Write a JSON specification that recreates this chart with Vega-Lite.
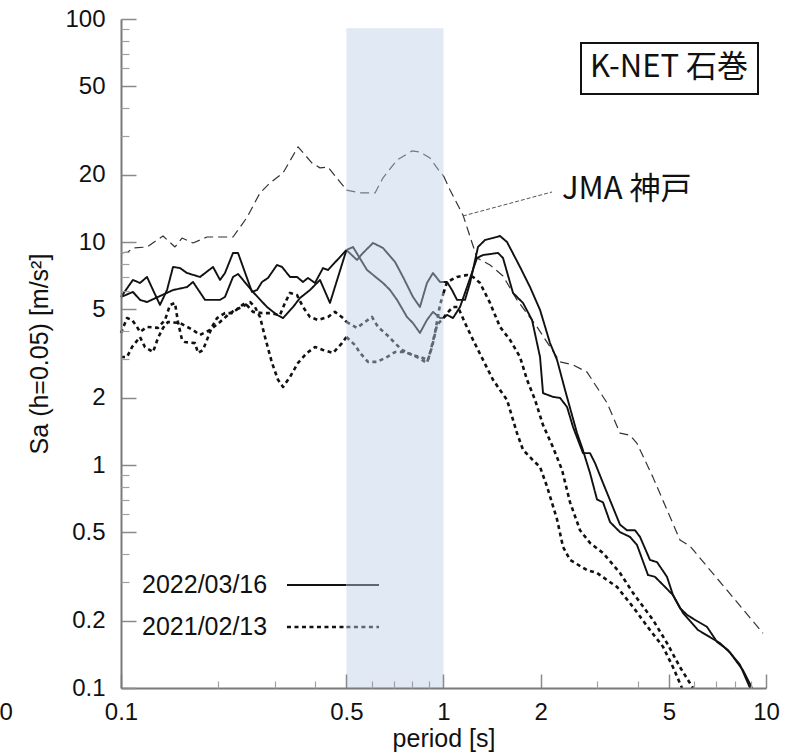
{
 "$schema": "https://vega.github.io/schema/vega-lite/v6.json",
 "width": 645, "height": 669,
 "autosize": "none",
 "padding": {"left": 121, "top": 19, "right": 39, "bottom": 67},
 "background": "white",
 "config": {"view": {"stroke": null}, "font": "Liberation Sans"},
 "datasets": {
  "lines": [
   {"i":"J1","g":"jma","t":"jout","x":0.1007,"y":8.93},{"i":"J1","g":"jma","t":"jout","x":0.1051,"y":9.02},{"i":"J1","g":"jma","t":"jout","x":0.1089,"y":9.4},{"i":"J1","g":"jma","t":"jout","x":0.1204,"y":9.5},{"i":"J1","g":"jma","t":"jout","x":0.135,"y":10.64},{"i":"J1","g":"jma","t":"jout","x":0.147,"y":9.5},{"i":"J1","g":"jma","t":"jout","x":0.1546,"y":10.42},{"i":"J1","g":"jma","t":"jout","x":0.1672,"y":9.9},{"i":"J1","g":"jma","t":"jout","x":0.1848,"y":10.53},{"i":"J1","g":"jma","t":"jout","x":0.2225,"y":10.53},{"i":"J1","g":"jma","t":"jout","x":0.2459,"y":12.9},{"i":"J1","g":"jma","t":"jout","x":0.2698,"y":16.6},{"i":"J1","g":"jma","t":"jout","x":0.2897,"y":18.4},{"i":"J1","g":"jma","t":"jout","x":0.318,"y":20.4},{"i":"J1","g":"jma","t":"jout","x":0.3539,"y":26.7},{"i":"J1","g":"jma","t":"jout","x":0.3911,"y":22.6},{"i":"J1","g":"jma","t":"jout","x":0.414,"y":21.5},{"i":"J1","g":"jma","t":"jout","x":0.4383,"y":21.7},{"i":"J1","g":"jma","t":"jout","x":0.5,"y":17.1},
   {"i":"J2","g":"jma","t":"jin","x":0.5,"y":17.1},{"i":"J2","g":"jma","t":"jin","x":0.5509,"y":16.6},{"i":"J2","g":"jma","t":"jin","x":0.6133,"y":16.6},{"i":"J2","g":"jma","t":"jin","x":0.6494,"y":19.4},{"i":"J2","g":"jma","t":"jin","x":0.7177,"y":23.3},{"i":"J2","g":"jma","t":"jin","x":0.7984,"y":25.6},{"i":"J2","g":"jma","t":"jin","x":0.8452,"y":25.3},{"i":"J2","g":"jma","t":"jin","x":0.908,"y":23.8},{"i":"J2","g":"jma","t":"jin","x":0.9752,"y":20.6},{"i":"J2","g":"jma","t":"jin","x":1.0,"y":19.8},
   {"i":"J3","g":"jma","t":"jout","x":1.0,"y":19.8},{"i":"J3","g":"jma","t":"jout","x":1.0476,"y":17.1},{"i":"J3","g":"jma","t":"jout","x":1.1495,"y":13.2},{"i":"J3","g":"jma","t":"jout","x":1.2704,"y":8.48},{"i":"J3","g":"jma","t":"jout","x":1.3939,"y":7.89},{"i":"J3","g":"jma","t":"jout","x":1.5293,"y":7.04},{"i":"J3","g":"jma","t":"jout","x":1.6902,"y":5.5},{"i":"J3","g":"jma","t":"jout","x":1.9499,"y":4.16},{"i":"J3","g":"jma","t":"jout","x":2.2982,"y":2.9},{"i":"J3","g":"jma","t":"jout","x":2.5217,"y":2.81},{"i":"J3","g":"jma","t":"jout","x":2.7866,"y":2.61},{"i":"J3","g":"jma","t":"jout","x":3.2137,"y":1.9},{"i":"J3","g":"jma","t":"jout","x":3.5262,"y":1.39},{"i":"J3","g":"jma","t":"jout","x":3.7871,"y":1.36},{"i":"J3","g":"jma","t":"jout","x":3.9811,"y":1.25},{"i":"J3","g":"jma","t":"jout","x":4.463,"y":0.88},{"i":"J3","g":"jma","t":"jout","x":5.4114,"y":0.461},{"i":"J3","g":"jma","t":"jout","x":5.8115,"y":0.433},{"i":"J3","g":"jma","t":"jout","x":9.788,"y":0.176},

   {"i":"A1","g":"d22","t":"out","x":0.1,"y":5.67},{"i":"A1","g":"d22","t":"out","x":0.1089,"y":6.76},{"i":"A1","g":"d22","t":"out","x":0.1145,"y":6.55},{"i":"A1","g":"d22","t":"out","x":0.1204,"y":6.97},{"i":"A1","g":"d22","t":"out","x":0.1257,"y":6.09},{"i":"A1","g":"d22","t":"out","x":0.1321,"y":5.22},{"i":"A1","g":"d22","t":"out","x":0.1389,"y":6.09},{"i":"A1","g":"d22","t":"out","x":0.145,"y":7.73},{"i":"A1","g":"d22","t":"out","x":0.1524,"y":7.64},{"i":"A1","g":"d22","t":"out","x":0.1602,"y":7.26},{"i":"A1","g":"d22","t":"out","x":0.1758,"y":6.97},{"i":"A1","g":"d22","t":"out","x":0.1929,"y":7.73},{"i":"A1","g":"d22","t":"out","x":0.2028,"y":6.76},{"i":"A1","g":"d22","t":"out","x":0.2101,"y":7.26},{"i":"A1","g":"d22","t":"out","x":0.2225,"y":8.93},{"i":"A1","g":"d22","t":"out","x":0.2306,"y":8.93},{"i":"A1","g":"d22","t":"out","x":0.2548,"y":5.97},{"i":"A1","g":"d22","t":"out","x":0.2641,"y":6.09},{"i":"A1","g":"d22","t":"out","x":0.2737,"y":6.62},{"i":"A1","g":"d22","t":"out","x":0.2857,"y":6.9},{"i":"A1","g":"d22","t":"out","x":0.3046,"y":7.89},{"i":"A1","g":"d22","t":"out","x":0.3157,"y":7.73},{"i":"A1","g":"d22","t":"out","x":0.3342,"y":6.97},{"i":"A1","g":"d22","t":"out","x":0.3514,"y":6.97},{"i":"A1","g":"d22","t":"out","x":0.3667,"y":6.62},{"i":"A1","g":"d22","t":"out","x":0.38,"y":6.9},{"i":"A1","g":"d22","t":"out","x":0.3995,"y":6.55},{"i":"A1","g":"d22","t":"out","x":0.423,"y":7.64},{"i":"A1","g":"d22","t":"out","x":0.4383,"y":7.49},{"i":"A1","g":"d22","t":"out","x":0.5,"y":9.2},
   {"i":"A2","g":"d22","t":"in","x":0.5,"y":9.2},{"i":"A2","g":"d22","t":"in","x":0.5392,"y":8.31},{"i":"A2","g":"d22","t":"in","x":0.5629,"y":8.93},{"i":"A2","g":"d22","t":"in","x":0.6046,"y":9.9},{"i":"A2","g":"d22","t":"in","x":0.6494,"y":9.4},{"i":"A2","g":"d22","t":"in","x":0.7075,"y":8.14},{"i":"A2","g":"d22","t":"in","x":0.7489,"y":6.97},{"i":"A2","g":"d22","t":"in","x":0.8041,"y":5.67},{"i":"A2","g":"d22","t":"in","x":0.8452,"y":5.11},{"i":"A2","g":"d22","t":"in","x":0.8886,"y":6.55},{"i":"A2","g":"d22","t":"in","x":0.9277,"y":7.26},{"i":"A2","g":"d22","t":"in","x":0.9752,"y":6.62},{"i":"A2","g":"d22","t":"in","x":1.0,"y":6.62},
   {"i":"A3","g":"d22","t":"out","x":1.0,"y":6.62},{"i":"A3","g":"d22","t":"out","x":1.0254,"y":6.62},{"i":"A3","g":"d22","t":"out","x":1.0626,"y":6.09},{"i":"A3","g":"d22","t":"out","x":1.1013,"y":5.5},{"i":"A3","g":"d22","t":"out","x":1.1661,"y":5.5},{"i":"A3","g":"d22","t":"out","x":1.2085,"y":6.55},{"i":"A3","g":"d22","t":"out","x":1.2794,"y":9.5},{"i":"A3","g":"d22","t":"out","x":1.3451,"y":10.21},{"i":"A3","g":"d22","t":"out","x":1.4241,"y":10.42},{"i":"A3","g":"d22","t":"out","x":1.4969,"y":10.64},{"i":"A3","g":"d22","t":"out","x":1.5737,"y":10.0},{"i":"A3","g":"d22","t":"out","x":1.7268,"y":7.73},{"i":"A3","g":"d22","t":"out","x":1.8549,"y":6.28},{"i":"A3","g":"d22","t":"out","x":1.9922,"y":4.96},{"i":"A3","g":"d22","t":"out","x":2.1397,"y":3.52},{"i":"A3","g":"d22","t":"out","x":2.2495,"y":2.96},{"i":"A3","g":"d22","t":"out","x":2.3817,"y":2.17},{"i":"A3","g":"d22","t":"out","x":2.5944,"y":1.39},{"i":"A3","g":"d22","t":"out","x":2.6887,"y":1.2},{"i":"A3","g":"d22","t":"out","x":2.8468,"y":0.92},{"i":"A3","g":"d22","t":"out","x":2.9928,"y":0.7},{"i":"A3","g":"d22","t":"out","x":3.1237,"y":0.68},{"i":"A3","g":"d22","t":"out","x":3.2832,"y":0.555},{"i":"A3","g":"d22","t":"out","x":3.5262,"y":0.5},{"i":"A3","g":"d22","t":"out","x":3.7871,"y":0.476},{"i":"A3","g":"d22","t":"out","x":3.9811,"y":0.438},{"i":"A3","g":"d22","t":"out","x":4.3063,"y":0.321},{"i":"A3","g":"d22","t":"out","x":4.5272,"y":0.315},{"i":"A3","g":"d22","t":"out","x":4.8626,"y":0.284},{"i":"A3","g":"d22","t":"out","x":5.148,"y":0.261},{"i":"A3","g":"d22","t":"out","x":5.5287,"y":0.217},{"i":"A3","g":"d22","t":"out","x":6.1534,"y":0.182},{"i":"A3","g":"d22","t":"out","x":6.7041,"y":0.169},{"i":"A3","g":"d22","t":"out","x":7.2005,"y":0.159},{"i":"A3","g":"d22","t":"out","x":7.7331,"y":0.144},{"i":"A3","g":"d22","t":"out","x":8.4881,"y":0.12},{"i":"A3","g":"d22","t":"out","x":9.051,"y":0.1},

   {"i":"B1","g":"d22","t":"out","x":0.1,"y":5.67},{"i":"B1","g":"d22","t":"out","x":0.1089,"y":5.97},{"i":"B1","g":"d22","t":"out","x":0.1145,"y":5.5},{"i":"B1","g":"d22","t":"out","x":0.1204,"y":5.38},{"i":"B1","g":"d22","t":"out","x":0.145,"y":6.09},{"i":"B1","g":"d22","t":"out","x":0.1602,"y":6.28},{"i":"B1","g":"d22","t":"out","x":0.1672,"y":6.62},{"i":"B1","g":"d22","t":"out","x":0.1822,"y":5.5},{"i":"B1","g":"d22","t":"out","x":0.2028,"y":5.5},{"i":"B1","g":"d22","t":"out","x":0.2101,"y":5.67},{"i":"B1","g":"d22","t":"out","x":0.2225,"y":6.97},{"i":"B1","g":"d22","t":"out","x":0.2306,"y":7.19},{"i":"B1","g":"d22","t":"out","x":0.2566,"y":5.97},{"i":"B1","g":"d22","t":"out","x":0.2836,"y":5.11},{"i":"B1","g":"d22","t":"out","x":0.3046,"y":4.71},{"i":"B1","g":"d22","t":"out","x":0.318,"y":4.56},{"i":"B1","g":"d22","t":"out","x":0.3415,"y":5.11},{"i":"B1","g":"d22","t":"out","x":0.3589,"y":5.61},{"i":"B1","g":"d22","t":"out","x":0.3855,"y":6.09},{"i":"B1","g":"d22","t":"out","x":0.414,"y":6.76},{"i":"B1","g":"d22","t":"out","x":0.4446,"y":5.33},{"i":"B1","g":"d22","t":"out","x":0.5,"y":9.2},
   {"i":"B2","g":"d22","t":"in","x":0.5,"y":9.2},{"i":"B2","g":"d22","t":"in","x":0.5241,"y":9.5},{"i":"B2","g":"d22","t":"in","x":0.5792,"y":7.49},{"i":"B2","g":"d22","t":"in","x":0.6494,"y":6.55},{"i":"B2","g":"d22","t":"in","x":0.6827,"y":6.09},{"i":"B2","g":"d22","t":"in","x":0.7177,"y":5.5},{"i":"B2","g":"d22","t":"in","x":0.7706,"y":4.61},{"i":"B2","g":"d22","t":"in","x":0.8041,"y":4.33},{"i":"B2","g":"d22","t":"in","x":0.8452,"y":3.91},{"i":"B2","g":"d22","t":"in","x":0.8886,"y":4.47},{"i":"B2","g":"d22","t":"in","x":0.9277,"y":4.86},{"i":"B2","g":"d22","t":"in","x":0.9752,"y":4.56},{"i":"B2","g":"d22","t":"in","x":1.0,"y":4.56},
   {"i":"B3","g":"d22","t":"out","x":1.0,"y":4.56},{"i":"B3","g":"d22","t":"out","x":1.0254,"y":4.71},{"i":"B3","g":"d22","t":"out","x":1.0702,"y":4.56},{"i":"B3","g":"d22","t":"out","x":1.1251,"y":5.11},{"i":"B3","g":"d22","t":"out","x":1.1829,"y":6.28},{"i":"B3","g":"d22","t":"out","x":1.2704,"y":8.48},{"i":"B3","g":"d22","t":"out","x":1.326,"y":8.74},{"i":"B3","g":"d22","t":"out","x":1.4757,"y":8.93},{"i":"B3","g":"d22","t":"out","x":1.5293,"y":8.48},{"i":"B3","g":"d22","t":"out","x":1.6426,"y":5.91},{"i":"B3","g":"d22","t":"out","x":1.7642,"y":5.33},{"i":"B3","g":"d22","t":"out","x":1.8816,"y":4.47},{"i":"B3","g":"d22","t":"out","x":1.9922,"y":3.05},{"i":"B3","g":"d22","t":"out","x":2.0353,"y":2.1},{"i":"B3","g":"d22","t":"out","x":2.1861,"y":2.02},{"i":"B3","g":"d22","t":"out","x":2.2982,"y":2.0},{"i":"B3","g":"d22","t":"out","x":2.416,"y":1.82},{"i":"B3","g":"d22","t":"out","x":2.5217,"y":1.48},{"i":"B3","g":"d22","t":"out","x":2.708,"y":1.13},{"i":"B3","g":"d22","t":"out","x":2.8468,"y":1.13},{"i":"B3","g":"d22","t":"out","x":2.9504,"y":1.02},{"i":"B3","g":"d22","t":"out","x":3.1237,"y":0.83},{"i":"B3","g":"d22","t":"out","x":3.5262,"y":0.54},{"i":"B3","g":"d22","t":"out","x":3.7068,"y":0.51},{"i":"B3","g":"d22","t":"out","x":3.9249,"y":0.51},{"i":"B3","g":"d22","t":"out","x":4.0673,"y":0.476},{"i":"B3","g":"d22","t":"out","x":4.3682,"y":0.375},{"i":"B3","g":"d22","t":"out","x":4.5924,"y":0.367},{"i":"B3","g":"d22","t":"out","x":4.9326,"y":0.315},{"i":"B3","g":"d22","t":"out","x":5.148,"y":0.261},{"i":"B3","g":"d22","t":"out","x":5.4114,"y":0.228},{"i":"B3","g":"d22","t":"out","x":5.6885,"y":0.213},{"i":"B3","g":"d22","t":"out","x":6.0229,"y":0.202},{"i":"B3","g":"d22","t":"out","x":6.562,"y":0.188},{"i":"B3","g":"d22","t":"out","x":7.0477,"y":0.161},{"i":"B3","g":"d22","t":"out","x":7.6236,"y":0.148},{"i":"B3","g":"d22","t":"out","x":8.3082,"y":0.127},{"i":"B3","g":"d22","t":"out","x":8.9227,"y":0.1},

   {"i":"C1","g":"d21","t":"out","x":0.1,"y":3.91},{"i":"C1","g":"d21","t":"out","x":0.1044,"y":4.56},{"i":"C1","g":"d21","t":"out","x":0.1082,"y":4.47},{"i":"C1","g":"d21","t":"out","x":0.1121,"y":4.16},{"i":"C1","g":"d21","t":"out","x":0.1145,"y":3.95},{"i":"C1","g":"d21","t":"out","x":0.1204,"y":4.16},{"i":"C1","g":"d21","t":"out","x":0.1302,"y":4.12},{"i":"C1","g":"d21","t":"out","x":0.1369,"y":4.47},{"i":"C1","g":"d21","t":"out","x":0.1419,"y":5.22},{"i":"C1","g":"d21","t":"out","x":0.147,"y":5.33},{"i":"C1","g":"d21","t":"out","x":0.1502,"y":4.38},{"i":"C1","g":"d21","t":"out","x":0.1546,"y":3.64},{"i":"C1","g":"d21","t":"out","x":0.1579,"y":3.56},{"i":"C1","g":"d21","t":"out","x":0.1696,"y":3.52},{"i":"C1","g":"d21","t":"out","x":0.1733,"y":3.18},{"i":"C1","g":"d21","t":"out","x":0.1796,"y":3.28},{"i":"C1","g":"d21","t":"out","x":0.1915,"y":4.16},{"i":"C1","g":"d21","t":"out","x":0.1985,"y":4.56},{"i":"C1","g":"d21","t":"out","x":0.2101,"y":4.8},{"i":"C1","g":"d21","t":"out","x":0.2209,"y":4.8},{"i":"C1","g":"d21","t":"out","x":0.2339,"y":5.11},{"i":"C1","g":"d21","t":"out","x":0.2424,"y":5.33},{"i":"C1","g":"d21","t":"out","x":0.2566,"y":4.86},{"i":"C1","g":"d21","t":"out","x":0.2737,"y":4.8},{"i":"C1","g":"d21","t":"out","x":0.2897,"y":4.8},{"i":"C1","g":"d21","t":"out","x":0.3112,"y":4.71},{"i":"C1","g":"d21","t":"out","x":0.3225,"y":5.33},{"i":"C1","g":"d21","t":"out","x":0.3342,"y":5.91},{"i":"C1","g":"d21","t":"out","x":0.3514,"y":5.78},{"i":"C1","g":"d21","t":"out","x":0.3667,"y":5.11},{"i":"C1","g":"d21","t":"out","x":0.3855,"y":4.61},{"i":"C1","g":"d21","t":"out","x":0.4081,"y":4.47},{"i":"C1","g":"d21","t":"out","x":0.4383,"y":4.61},{"i":"C1","g":"d21","t":"out","x":0.4608,"y":4.86},{"i":"C1","g":"d21","t":"out","x":0.488,"y":4.56},{"i":"C1","g":"d21","t":"out","x":0.5,"y":4.38},
   {"i":"C2","g":"d21","t":"in","x":0.5,"y":4.38},{"i":"C2","g":"d21","t":"in","x":0.5392,"y":4.12},{"i":"C2","g":"d21","t":"in","x":0.571,"y":4.38},{"i":"C2","g":"d21","t":"in","x":0.6003,"y":4.61},{"i":"C2","g":"d21","t":"in","x":0.6266,"y":4.16},{"i":"C2","g":"d21","t":"in","x":0.6682,"y":3.83},{"i":"C2","g":"d21","t":"in","x":0.7075,"y":3.52},{"i":"C2","g":"d21","t":"in","x":0.7436,"y":3.28},{"i":"C2","g":"d21","t":"in","x":0.7761,"y":3.18},{"i":"C2","g":"d21","t":"in","x":0.8273,"y":3.05},{"i":"C2","g":"d21","t":"in","x":0.8886,"y":2.87},{"i":"C2","g":"d21","t":"in","x":0.908,"y":3.18},{"i":"C2","g":"d21","t":"in","x":0.941,"y":3.91},{"i":"C2","g":"d21","t":"in","x":0.9752,"y":5.22},{"i":"C2","g":"d21","t":"in","x":1.0,"y":5.9},
   {"i":"C3","g":"d21","t":"out","x":1.0,"y":5.9},{"i":"C3","g":"d21","t":"out","x":1.0254,"y":6.62},{"i":"C3","g":"d21","t":"out","x":1.1013,"y":6.97},{"i":"C3","g":"d21","t":"out","x":1.1829,"y":7.11},{"i":"C3","g":"d21","t":"out","x":1.2347,"y":6.97},{"i":"C3","g":"d21","t":"out","x":1.2979,"y":6.55},{"i":"C3","g":"d21","t":"out","x":1.3939,"y":5.33},{"i":"C3","g":"d21","t":"out","x":1.4969,"y":4.16},{"i":"C3","g":"d21","t":"out","x":1.6077,"y":3.64},{"i":"C3","g":"d21","t":"out","x":1.7268,"y":3.05},{"i":"C3","g":"d21","t":"out","x":1.8156,"y":2.41},{"i":"C3","g":"d21","t":"out","x":1.9223,"y":1.96},{"i":"C3","g":"d21","t":"out","x":2.0353,"y":1.51},{"i":"C3","g":"d21","t":"out","x":2.1861,"y":1.2},{"i":"C3","g":"d21","t":"out","x":2.3312,"y":0.95},{"i":"C3","g":"d21","t":"out","x":2.4683,"y":0.68},{"i":"C3","g":"d21","t":"out","x":2.6506,"y":0.51},{"i":"C3","g":"d21","t":"out","x":2.8468,"y":0.447},{"i":"C3","g":"d21","t":"out","x":3.1237,"y":0.403},{"i":"C3","g":"d21","t":"out","x":3.5262,"y":0.328},{"i":"C3","g":"d21","t":"out","x":3.8692,"y":0.267},{"i":"C3","g":"d21","t":"out","x":4.463,"y":0.202},{"i":"C3","g":"d21","t":"out","x":4.9326,"y":0.159},{"i":"C3","g":"d21","t":"out","x":5.4114,"y":0.124},{"i":"C3","g":"d21","t":"out","x":5.9374,"y":0.1},

   {"i":"D1","g":"d21","t":"out","x":0.1,"y":3.05},{"i":"D1","g":"d21","t":"out","x":0.1044,"y":3.05},{"i":"D1","g":"d21","t":"out","x":0.1082,"y":3.38},{"i":"D1","g":"d21","t":"out","x":0.1145,"y":3.75},{"i":"D1","g":"d21","t":"out","x":0.1187,"y":3.38},{"i":"D1","g":"d21","t":"out","x":0.1257,"y":3.21},{"i":"D1","g":"d21","t":"out","x":0.1302,"y":3.71},{"i":"D1","g":"d21","t":"out","x":0.135,"y":4.12},{"i":"D1","g":"d21","t":"out","x":0.1399,"y":4.38},{"i":"D1","g":"d21","t":"out","x":0.1524,"y":4.33},{"i":"D1","g":"d21","t":"out","x":0.1672,"y":4.03},{"i":"D1","g":"d21","t":"out","x":0.1758,"y":3.83},{"i":"D1","g":"d21","t":"out","x":0.1888,"y":4.03},{"i":"D1","g":"d21","t":"out","x":0.2028,"y":4.38},{"i":"D1","g":"d21","t":"out","x":0.2147,"y":4.71},{"i":"D1","g":"d21","t":"out","x":0.2257,"y":4.96},{"i":"D1","g":"d21","t":"out","x":0.2372,"y":5.11},{"i":"D1","g":"d21","t":"out","x":0.2512,"y":5.38},{"i":"D1","g":"d21","t":"out","x":0.2603,"y":5.11},{"i":"D1","g":"d21","t":"out","x":0.2698,"y":4.61},{"i":"D1","g":"d21","t":"out","x":0.2796,"y":3.75},{"i":"D1","g":"d21","t":"out","x":0.2939,"y":2.87},{"i":"D1","g":"d21","t":"out","x":0.3068,"y":2.41},{"i":"D1","g":"d21","t":"out","x":0.318,"y":2.24},{"i":"D1","g":"d21","t":"out","x":0.3342,"y":2.48},{"i":"D1","g":"d21","t":"out","x":0.3539,"y":2.87},{"i":"D1","g":"d21","t":"out","x":0.3773,"y":3.18},{"i":"D1","g":"d21","t":"out","x":0.3995,"y":3.38},{"i":"D1","g":"d21","t":"out","x":0.423,"y":3.28},{"i":"D1","g":"d21","t":"out","x":0.4543,"y":3.18},{"i":"D1","g":"d21","t":"out","x":0.4845,"y":3.52},{"i":"D1","g":"d21","t":"out","x":0.5,"y":3.75},
   {"i":"D2","g":"d21","t":"in","x":0.5,"y":3.75},{"i":"D2","g":"d21","t":"in","x":0.5316,"y":3.45},{"i":"D2","g":"d21","t":"in","x":0.5509,"y":3.18},{"i":"D2","g":"d21","t":"in","x":0.5834,"y":2.9},{"i":"D2","g":"d21","t":"in","x":0.6221,"y":2.9},{"i":"D2","g":"d21","t":"in","x":0.6682,"y":3.05},{"i":"D2","g":"d21","t":"in","x":0.7075,"y":3.21},{"i":"D2","g":"d21","t":"in","x":0.7597,"y":3.21},{"i":"D2","g":"d21","t":"in","x":0.8041,"y":3.11},{"i":"D2","g":"d21","t":"in","x":0.8635,"y":3.02},{"i":"D2","g":"d21","t":"in","x":0.895,"y":2.96},{"i":"D2","g":"d21","t":"in","x":0.9211,"y":3.38},{"i":"D2","g":"d21","t":"in","x":0.9546,"y":4.25},{"i":"D2","g":"d21","t":"in","x":1.0,"y":4.56},
   {"i":"D3","g":"d21","t":"out","x":1.0,"y":4.56},{"i":"D3","g":"d21","t":"out","x":1.0254,"y":4.8},{"i":"D3","g":"d21","t":"out","x":1.0702,"y":5.11},{"i":"D3","g":"d21","t":"out","x":1.1092,"y":5.11},{"i":"D3","g":"d21","t":"out","x":1.1661,"y":4.33},{"i":"D3","g":"d21","t":"out","x":1.2347,"y":3.64},{"i":"D3","g":"d21","t":"out","x":1.326,"y":2.96},{"i":"D3","g":"d21","t":"out","x":1.4241,"y":2.41},{"i":"D3","g":"d21","t":"out","x":1.4969,"y":2.17},{"i":"D3","g":"d21","t":"out","x":1.5737,"y":1.96},{"i":"D3","g":"d21","t":"out","x":1.6902,"y":1.39},{"i":"D3","g":"d21","t":"out","x":1.7642,"y":1.17},{"i":"D3","g":"d21","t":"out","x":1.895,"y":1.05},{"i":"D3","g":"d21","t":"out","x":1.9922,"y":0.98},{"i":"D3","g":"d21","t":"out","x":2.0943,"y":0.8},{"i":"D3","g":"d21","t":"out","x":2.2495,"y":0.57},{"i":"D3","g":"d21","t":"out","x":2.3479,"y":0.429},{"i":"D3","g":"d21","t":"out","x":2.4683,"y":0.375},{"i":"D3","g":"d21","t":"out","x":2.7866,"y":0.338},{"i":"D3","g":"d21","t":"out","x":2.9928,"y":0.328},{"i":"D3","g":"d21","t":"out","x":3.2137,"y":0.305},{"i":"D3","g":"d21","t":"out","x":3.4514,"y":0.284},{"i":"D3","g":"d21","t":"out","x":3.8692,"y":0.231},{"i":"D3","g":"d21","t":"out","x":4.3682,"y":0.182},{"i":"D3","g":"d21","t":"out","x":4.7935,"y":0.153},{"i":"D3","g":"d21","t":"out","x":5.148,"y":0.124},{"i":"D3","g":"d21","t":"out","x":5.4893,"y":0.1},

   {"i":"L22a","g":"d22","t":"out","x":0.3271,"y":0.2897},{"i":"L22a","g":"d22","t":"out","x":0.5,"y":0.2897},
   {"i":"L22b","g":"d22","t":"in","x":0.5,"y":0.2897},{"i":"L22b","g":"d22","t":"in","x":0.631,"y":0.2897},
   {"i":"L21a","g":"d21","t":"out","x":0.3271,"y":0.1877},{"i":"L21a","g":"d21","t":"out","x":0.5,"y":0.1877},
   {"i":"L21b","g":"d21","t":"in","x":0.5,"y":0.1877},{"i":"L21b","g":"d21","t":"in","x":0.631,"y":0.1877}
  ]
 },
 "layer": [
  {
   "data": {"values": [{"x1": 0.5, "x2": 1.0, "y1": 0.1, "y2": 91}]},
   "mark": {"type": "rect", "color": "#e0e9f4"},
   "encoding": {
    "x": {"field": "x1", "type": "quantitative", "scale": {"type": "log", "domain": [0.1, 10], "nice": false},
     "axis": {"orient": "bottom", "values": [0.1, 0.5, 1, 2, 5, 10], "format": "~g", "labelFlush": false, "labelOverlap": false,
      "labelFontSize": 24, "labelFont": "Liberation Sans", "labelColor": "#111111", "labelPadding": 26,
      "tickSize": -14, "tickColor": "#8a8a8a", "tickWidth": 1.5, "domainColor": "#7a7a7a", "domainWidth": 2, "grid": false,
      "title": "period [s]", "titleFont": "Liberation Sans", "titleFontSize": 25, "titleFontWeight": "normal", "titleColor": "#111111",
      "titleY": 38, "titleBaseline": "top", "zindex": 1}},
    "x2": {"field": "x2"},
    "y": {"field": "y1", "type": "quantitative", "scale": {"type": "log", "domain": [0.1, 100], "nice": false},
     "axis": {"orient": "left", "values": [0.1, 0.2, 0.5, 1, 2, 5, 10, 20, 50, 100], "format": "~g", "labelFlush": false, "labelOverlap": false,
      "labelFontSize": 24, "labelFont": "Liberation Sans", "labelColor": "#111111", "labelPadding": 31,
      "tickSize": -15, "tickColor": "#8a8a8a", "tickWidth": 1.5, "domainColor": "#7a7a7a", "domainWidth": 2, "grid": false,
      "title": "Sa (h=0.05) [m/s²]", "titleFont": "Liberation Sans", "titleFontSize": 25, "titleFontWeight": "normal", "titleColor": "#111111",
      "titleX": -74, "titleY": 334.5, "titleAlign": "center", "titleBaseline": "alphabetic", "zindex": 1}},
    "y2": {"field": "y2"}
   }
  },
  {
   "data": {"name": "lines"},
   "mark": {"type": "line", "strokeCap": "butt", "strokeJoin": "round"},
   "encoding": {
    "x": {"field": "x", "type": "quantitative", "scale": {"type": "log", "domain": [0.1, 10], "nice": false},
     "axis": {"orient": "bottom", "values": [0.2, 0.3, 0.4, 0.6, 0.7, 0.8, 0.9, 3, 4, 6, 7, 8, 9], "labels": false, "domain": false, "grid": false, "title": null,
      "tickSize": -7, "tickColor": "#a0a0a0", "tickWidth": 1.2, "zindex": 1}},
    "y": {"field": "y", "type": "quantitative", "scale": {"type": "log", "domain": [0.1, 100], "nice": false},
     "axis": {"orient": "left", "values": [0.3, 0.4, 0.6, 0.7, 0.8, 0.9, 3, 4, 6, 7, 8, 9, 30, 40, 60, 70, 80, 90], "labels": false, "domain": false, "grid": false, "title": null,
      "tickSize": -8, "tickColor": "#a0a0a0", "tickWidth": 1.2, "zindex": 1}},
    "detail": {"field": "i"},
    "color": {"field": "t", "type": "nominal", "scale": {"domain": ["out", "in", "jout", "jin"], "range": ["#111111", "#5d6873", "#333333", "#6f7a85"]}, "legend": null},
    "strokeDash": {"field": "g", "type": "nominal", "scale": {"domain": ["jma", "d22", "d21"], "range": [[9, 5], [1, 0], [4, 3.5]]}, "legend": null},
    "strokeWidth": {"field": "g", "type": "nominal", "scale": {"domain": ["jma", "d22", "d21"], "range": [1.2, 2.6, 3]}, "legend": null}
   }
  },
  {
   "data": {"values": [{"x": 1.149, "y": 13.08}, {"x": 2.17, "y": 16.76}]},
   "mark": {"type": "line", "color": "#555555", "strokeWidth": 1, "strokeDash": [4, 2]},
   "encoding": {
    "x": {"field": "x", "type": "quantitative", "scale": {"type": "log", "domain": [0.1, 10], "nice": false}, "axis": null},
    "y": {"field": "y", "type": "quantitative", "scale": {"type": "log", "domain": [0.1, 100], "nice": false}, "axis": null}
   }
  },
  {
   "data": {"values": [{"x1": 2.669, "x2": 9.445, "y1": 46.1, "y2": 78.06}]},
   "mark": {"type": "rect", "fill": "white", "stroke": "#111111", "strokeWidth": 2},
   "encoding": {
    "x": {"field": "x1", "type": "quantitative", "scale": {"type": "log", "domain": [0.1, 10], "nice": false}, "axis": null},
    "x2": {"field": "x2"},
    "y": {"field": "y1", "type": "quantitative", "scale": {"type": "log", "domain": [0.1, 100], "nice": false}, "axis": null},
    "y2": {"field": "y2"}
   }
  },
  {
   "data": {"values": [{"label": "K-NET 石巻", "x": 5.003, "y": 60.6}]},
   "mark": {"type": "text", "font": "Noto Sans CJK JP", "fontSize": 31, "align": "center", "baseline": "middle", "color": "#111111"},
   "encoding": {
    "x": {"field": "x", "type": "quantitative", "scale": {"type": "log", "domain": [0.1, 10], "nice": false}, "axis": null},
    "y": {"field": "y", "type": "quantitative", "scale": {"type": "log", "domain": [0.1, 100], "nice": false}, "axis": null},
    "text": {"field": "label"}
   }
  },
  {
   "data": {"values": [{"label": "JMA 神戸", "x": 2.331, "y": 17.1}]},
   "mark": {"type": "text", "font": "Noto Sans CJK JP", "fontSize": 31, "align": "left", "baseline": "middle", "color": "#111111"},
   "encoding": {
    "x": {"field": "x", "type": "quantitative", "scale": {"type": "log", "domain": [0.1, 10], "nice": false}, "axis": null},
    "y": {"field": "y", "type": "quantitative", "scale": {"type": "log", "domain": [0.1, 100], "nice": false}, "axis": null},
    "text": {"field": "label"}
   }
  },
  {
   "data": {"values": [{"label": "2022/03/16", "x": 0.1162, "y": 0.2897}, {"label": "2021/02/13", "x": 0.1162, "y": 0.1877}]},
   "mark": {"type": "text", "font": "Liberation Sans", "fontSize": 25, "align": "left", "baseline": "middle", "color": "#111111"},
   "encoding": {
    "x": {"field": "x", "type": "quantitative", "scale": {"type": "log", "domain": [0.1, 10], "nice": false}, "axis": null},
    "y": {"field": "y", "type": "quantitative", "scale": {"type": "log", "domain": [0.1, 100], "nice": false}, "axis": null},
    "text": {"field": "label"}
   }
  },
  {
   "data": {"values": [{"label": "0", "x": 0.0462, "y": 0.0773}]},
   "mark": {"type": "text", "font": "Liberation Sans", "fontSize": 24, "align": "right", "baseline": "middle", "color": "#111111"},
   "encoding": {
    "x": {"field": "x", "type": "quantitative", "scale": {"type": "log", "domain": [0.1, 10], "nice": false}, "axis": null},
    "y": {"field": "y", "type": "quantitative", "scale": {"type": "log", "domain": [0.1, 100], "nice": false}, "axis": null},
    "text": {"field": "label"}
   }
  }
 ],
 "resolve": {"axis": {"x": "independent", "y": "independent"}}
}
